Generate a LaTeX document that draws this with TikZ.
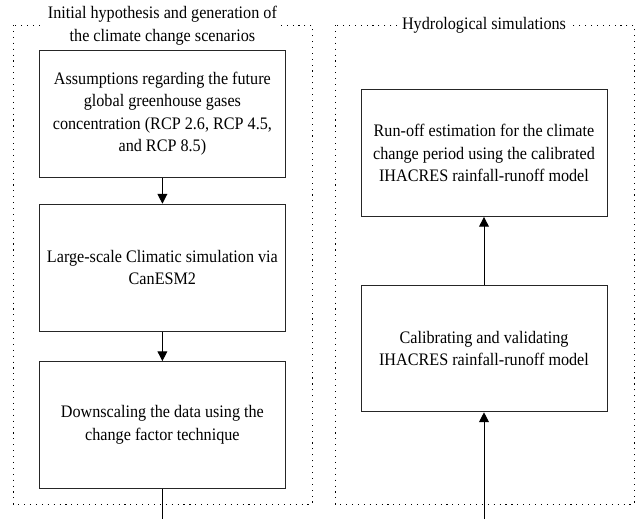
\documentclass[tikz,border=0pt]{standalone}
\usepackage{fontspec}
\setmainfont{Liberation Serif}[FakeStretch=0.92]
\usetikzlibrary{shapes,arrows.meta,positioning,calc}

\begin{document}
\begin{tikzpicture}[
    proc/.style={rectangle, draw=black!85, line width=0.7pt, minimum width=6.15cm, minimum height=3.17cm, align=center, font=\fontsize{12.5}{16}\selectfont},
    frame/.style={draw, line width=0.6pt, dash pattern=on 0.8pt off 3.4pt},
    title/.style={fill=white, align=center, inner sep=2pt, font=\fontsize{12.5}{16}\selectfont},
    arrow/.style={-{Triangle[length=7pt, width=7pt]}, line width=0.7pt}
]
    \useasboundingbox (0,0) rectangle (15.925,-12.975);

    % dotted frames
    \draw[frame] (0.325,-0.625) rectangle (7.8,-12.6);
    \draw[frame] (8.375,-0.625) rectangle (15.85,-12.6);

    % frame titles
    \node[title] (leftTitle) at (4.06,-0.64) {Initial hypothesis and generation of\\the climate change scenarios};
    \node[title] (rightTitle) at (12.1,-0.625) {Hydrological simulations};

    % climate boxes - left column
    \node[proc] (rcp) at (4.06, -2.84) {Assumptions regarding the future\\global greenhouse gases\\concentration (RCP 2.6, RCP 4.5,\\and RCP 8.5)};
    \node[proc] (gcm) at (4.06, -6.69) {Large-scale Climatic simulation via\\CanESM2};
    \node[proc] (downscale) at (4.06, -10.625) {Downscaling the data using the\\change factor technique};

    % hydrology boxes - right column
    \node[proc] (runoff) at (12.1, -3.825) {Run-off estimation for the climate\\change period using the calibrated\\IHACRES rainfall-runoff model};
    \node[proc] (calib) at (12.1, -8.71) {Calibrating and validating\\IHACRES rainfall-runoff model};

    % free ends at the bottom edge
    \coordinate (outLeft) at (4.06, -12.975);
    \coordinate (inRight) at (12.1, -12.975);

    % arrows
    \draw[arrow] (rcp) -- (gcm);
    \draw[arrow] (gcm) -- (downscale);
    \draw[line width=0.7pt] (downscale) -- (outLeft);
    \draw[arrow] (inRight) -- (calib);
    \draw[arrow] (calib) -- (runoff);
\end{tikzpicture}
\end{document}
